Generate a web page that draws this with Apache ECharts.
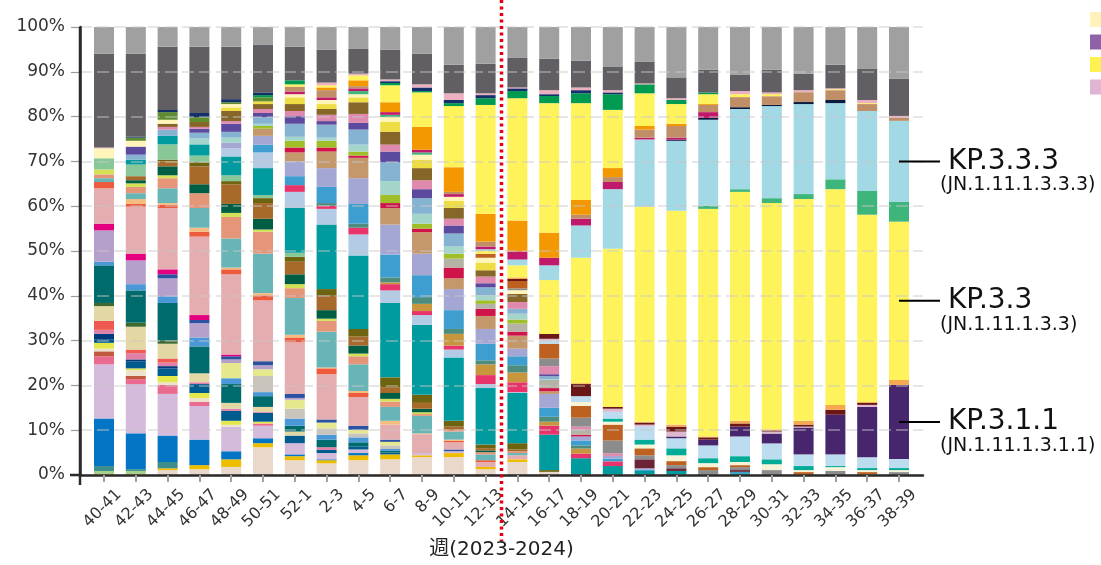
<!DOCTYPE html>
<html><head><meta charset="utf-8">
<script src="https://cdn.jsdelivr.net/npm/echarts@6/dist/echarts.min.js"></script>
<style>html,body{margin:0;padding:0;background:#fff}#c{width:1101px;height:565px}</style>
</head><body><div id="c"></div>
<script>
const weeks = ['40-41','42-43','44-45','46-47','48-49','50-51','52-1','2-3','4-5','6-7','8-9','10-11','12-13','14-15','16-17','18-19','20-21','22-23','24-25','26-27','28-29','30-31','32-33','34-35','36-37','38-39'];

// series values (% share per 2-week period), stacked bottom -> top
const beige     = [0,0,1.1,1.3,1.8,6.2,3.3,2.6,3.3,3.5,4.0,4.0,1.3,2.9,0.7,0,0,0,0,0,0,0,0,0,0,0];
const gold      = [0.2,0.2,0.4,0.9,1.7,0.9,0.9,0.7,1.1,1.1,0.4,0.9,0.5,0.6,0,0,0,0,0,0,0,0,0,0,0,0];
const ltgreen   = [0.7,0.7,0,0,0,0,0,0,0,0,0,0,0,0,0,0,0,0,0,0,0,0,0,0,0,0];
const tealgray  = [1.1,0.4,1.4,0,0,0,0,0,0,0,0,0,0,0,0,0,0,0,0,0,0,0,0,0,0,0];
const blue      = [10.6,8.0,5.9,5.7,1.8,1.1,0.4,0.2,0.5,0,0,0,0,0,0,0,0,0,0,0,0,0,0,0,0,0];
const ltpurple  = [12.1,11.0,9.3,7.5,5.5,2.8,2.5,1.4,0.8,0,0.5,0.4,0,0,0,0,0,0,0,0,0,0,0,0,0,0];
const pinkA     = [1.8,1.1,2.0,0.9,0,0.5,0,0,0,0,0,0,0,0,0,0,0,0,0,0,0,0,0,0,0,0];
const brownred  = [1.1,0.7,0,0,0,0,0,0,0,0,0,0,0,0,0,0,0,0,0,0,0,0,0,0,0,0];
const beigeL    = [0.6,1.3,0.6,0.9,0.4,0,0,0,0,0,0,0,0,0,0,0,0,0,0,0,0,0,0,0,0,0];
const yellowA   = [1.3,0.4,1.4,1.1,0.9,0.4,0,0,0,0,0,0,0,0,0,0,0,0,0,0,0,0,0,0,0,0];
const dkblue    = [0.7,1.5,1.7,2.0,2.2,2.0,1.7,0.7,0.7,0.4,0,0,0,0,0,0,0,0,0,0,0,0,0,0,0,0];
const navyA     = [1.3,0.5,0.5,0,0,0,0,0,0,0,0,0,0,0,0,0,0,0,0,0,0,0,0,0,0,0];
const pinkD     = [0.9,1.4,0.8,0.4,0.5,0.2,0,0.6,0,0,0,0,0,0,0,0,0,0,0,0,0,0,0,0,0,0];
const redA      = [2.0,0.8,0.9,0,0,0,0,0,0,0,0,0,0,0,0,0,0,0,0,0,0,0,0,0,0,0];
const tanA      = [3.3,5.1,3.3,2.0,1.3,1.1,0.9,0,0,0,0,0,0,0,0,0,0,0,0,0,0,0,0,0,0,0];
const dkolive   = [0.7,0.9,0.7,0,0,0,0,0,0,0,0,0,0,0,0,0,0,0,0,0,0,0,0,0,0,0];
const dkteal    = [8.4,7.2,8.4,6.0,4.2,2.4,1.3,1.7,0.9,0.4,0,0,0,0,0,0,0,0,0,0,0,0,0,0,0,0];
const blueB     = [0.8,1.4,1.5,2.0,1.3,0.9,1.6,1.1,1.1,0.4,0,0,0,0,0,0,0,0,0,0,0,0,0,0,0,0];
const grayish   = [0,0,0,0,0,3.6,2.2,1.4,0.9,0.8,0,0,0,0,0,0,0,0,0,0,0,0,0,0,0,0];
const paleyel   = [0,0,0,0,3.4,1.5,2.0,1.3,0.8,0.8,0,0,0,0,0,0,0,0,0,0,0,0,0,0,0,0];
const lavA      = [7.0,5.3,4.0,3.2,0.8,0.9,0.4,0,0,0,0,0,0,0,0,0,0,0,0,0,0,0,0,0,0,0];
const blueD     = [0,0,0.9,0.7,0.7,0.9,0.9,0.7,0.9,0.5,0,0.4,0,0,0,0,0,0,0,0,0,0,0,0,0,0];
const magenta   = [1.5,1.5,1.1,1.1,0.4,0,0,0,0,0,0,0,0,0,0,0,0,0,0,0,0,0,0,0,0,0];
const pinkBig   = [7.9,10.5,13.7,17.5,17.9,13.6,11.5,10.1,6.4,3.35,4.2,1.6,1.1,0.9,0,0,0,0,0,0,0,0,0,0,0,0];
const redorange = [1.4,0.6,0.7,1.1,1.1,1.1,1.1,1.3,0.9,0,0,0.3,0.4,0,0,0,0,0,0,0,0,0,0,0,0,0];
const apricot   = [0,1.1,0.4,0.9,0.4,0.5,0.6,0.2,0.45,0.85,0.2,0.3,0,0,0,0,0,0,0,0,0,0,0,0,0,0];
const ltteal    = [0.85,1.3,3.3,4.4,6.5,8.8,8.2,8.0,5.95,3.1,3.9,1.8,1.3,0.5,0,0,0,0,0,0,0,0,0,0,0,0];
const salmon    = [0.85,1.4,2.25,3.3,4.8,4.9,2.2,2.4,1.8,1.2,0.4,0.4,0.5,0.4,0,0,0,0,0,0,0,0,0,0,0,0];
const ygreenA   = [1.1,0.8,0.65,0,0.9,0.5,0.9,0.5,0.6,0.6,0.4,0,0,0,0,0,0,0,0,0,0,0,0,0,0,0];
const dkgreen   = [0,0.7,2.0,2.0,2.0,2.4,2.2,1.9,1.8,1.3,0.8,0,0.4,0,0,0,0,0,0,0,0,0,0,0,0,0];
const brownA    = [0,0.9,1.1,4.0,4.4,3.5,2.8,3.2,2.0,1.3,1.3,0.7,0.5,0.4,0,0,0,0,0,0,0,0,0,0,0,0];
const oliveA    = [0,0,0.4,0.9,0.7,1.1,1.1,1.5,1.7,2.2,1.8,1.3,0.8,1.4,0.4,0.2,0,0,0,0,0,0,0,0,0,0];
const ltgreenB  = [2.5,2.6,3.4,1.5,1.3,0.7,0.9,0,0,0,0,0,0,0,0,0,0,0,0,0,0,0,0,0,0,0];
const jn1       = [0,1.1,1.9,2.5,4.2,6.0,10.0,14.4,16.4,16.6,15.6,14.15,12.6,11.2,7.9,3.55,2.0,0.9,0.9,0,0.4,0,0,0,0,0];
const ltblueA   = [0,0,0,0,1.8,3.5,3.6,3.5,4.7,2.8,2.2,1.75,0.9,0.2,0,0,0,0,0,0,0,0,0,0,0,0];
const redpink   = [0,0,0,0,0,0,1.5,0.7,1.5,1.4,0.9,0.9,2.0,2.2,2.0,1.05,1.05,0,0,0,0,0,0,0,0,0];
const tanorange = [0,0,0,0,0,0,0,0,0,0.4,1.6,2.6,2.4,2.2,0.9,1.1,0,0,0,0,0,0,0,0,0,0];
const tealgrayB = [0,0,0,0,0,0,0,0.6,0.9,1.1,1.5,1.1,0.9,1.6,1.1,0.7,0,0,0,0,0,0,0,0,0,0];
const blueC     = [0,0,0,0,0,1.75,2.0,3.6,4.4,5.1,4.9,4.2,3.7,2.0,2.0,1.1,0.6,0.3,0,0,0.3,0,0,0,0,0];
const lavB      = [0,0,0,0,1.3,1.95,3.3,4.2,5.75,6.7,4.8,4.7,3.3,1.7,3.1,0.9,0.6,0.3,0,0,0,0,0,0,0,0];
const tanB      = [0,0,0,0,0,1.6,2.0,3.7,4.55,3.7,4.8,2.4,2.9,2.9,0.6,0,0,0,0,0,0,0,0,0,0,0];
const red       = [0,0,0,0,0,0,1.1,0.9,0.5,1.1,0.8,2.4,1.6,0.9,0.7,0.4,0,0,0,0,0,0,0,0,0,0];
const graybeige = [0,0,0,0,0,0,0,0,0,0,0,2.0,1.1,1.8,1.8,1.1,0,0,0,0,0,0,0,0,0,0];
const ygreen    = [0,0,0,0,0,0.6,1.5,1.5,0.9,1.8,1.1,1.1,0.8,0.9,0,0,0,0,0,0,0,0,0,0,0,0];
const mint      = [0,0,0,1.3,1.1,0.5,0.9,0.7,1.55,3.1,2.2,1.6,1.1,1.3,0.2,0,0,0,0,0,0,0,0,0,0,0];
const ltblueB   = [0,1.1,1.4,1.3,1.3,1.5,2.9,2.9,3.35,4.2,3.5,2.9,1.8,1.1,0.65,0,0,0,0,0,0,0,0,0,0,0];
const purple    = [0,1.8,0,0.9,1.8,0.9,1.7,0.8,1.5,2.4,2.0,1.8,0.9,0,0.45,0,0,0,0,0,0,0,0,0,0,0];
const pinkC     = [0,0,0.6,0.4,0.6,0.9,1.15,1.4,2.0,1.55,2.0,1.5,1.5,1.5,1.8,0.7,0.6,0,0,0,0,0,0,0,0,0];
const oliveB    = [0,0,0.7,1.1,2.25,1.1,1.55,1.3,2.6,2.85,2.7,2.4,1.4,1.8,0,0,0,0,0,0,0,0,0,0,0,0];
const yellowB   = [0,0,0,0,0.8,0.6,1.5,1.1,1.1,2.2,1.9,1.6,1.7,0,0,0,0,0,0,0,0,0,0,0,0,0];
const ltyellow  = [2.2,1.3,0.9,0,0.75,0,0.7,0.9,0.7,1.1,1.1,0.9,1.1,0.85,0,0,0,0,0,0,0,0,0,0,0,0];
const greenO    = [0,0.7,1.7,1.1,0.4,0.9,0,0,0,0,0,0,0,0,0,0,0,0,0,0,0,0,0,0,0,0];
const maroon    = [0,0,0,0,0,0,0,0,0,0,0,0,0,0,0,0,0,2.0,0.6,0,0.4,0,0,0,0,0];
const grayM     = [0,0,0,0,0,0,0,0,0,0,0,0,0,0.4,1.7,2.0,2.85,0.9,0.7,1.1,0.65,1.1,0,0.9,0.2,0.65];
const brownR    = [0,0,0,0,0,0,0,0,0,0,0,0,0.9,1.65,3.3,2.6,3.55,1.55,0.9,0.65,0.45,0,0.65,0,0.45,0];
const cream     = [0,0,0,0,0,0,0,0,0,0,0,0,0,0,0,0.9,0.65,0.85,1.3,0.9,0.7,1.3,0.45,0.85,0.45,0.45];
const tealK     = [0,0,0,0,0,0,0,0,0,0,0,0,0,0,0,0,0.7,1.1,1.55,1.1,1.3,1.1,0.9,0.25,0.45,0.45];
const ltblueK   = [0,0,0,0,0,0,0,0,0,0,0,0,0,0,0.7,1.3,1.5,2.9,2.25,2.85,4.4,3.55,2.6,2.6,2.4,2.0];
const kp311     = [0,0,0,0,0,0,0,0,0,0,0,0,0,0,0,0,0,0,0.4,1.3,2.2,2.2,6.0,8.85,11.25,16.55];
const lavK      = [0,0,0,0,0,0,0,0,0,0,0,0,0,0,0.4,0,0.7,0.45,1.1,0,0,0.45,0.2,0,0.45,0];
const dkred     = [0,0,0,0,0,0,0,0,0,0,0,0,0,0.45,1.1,2.7,0.4,0.45,1.1,0.5,0.7,0.25,0.45,1.1,0.45,0];
const orangeK   = [0,0,0,0,0,0,0,0,0,0,0,0,0,0.35,0,0.2,0,0.2,0.45,0.2,0.6,0.2,0.85,1.1,0.2,1.1];
const kp33      = [0,0,0,0,0,0,0,0,0,0,0,0,0.6,2.7,12.0,28.0,35.3,48.0,47.75,50.8,51.1,50.55,49.5,48.15,41.8,35.35];
const greenK    = [0,0,0,0,0,0,0,0,0.7,0.5,0.5,0,0,0,0,0,0,0,0,0.7,0.6,1.1,1.1,2.2,5.3,4.4];
const kp333     = [0,0,0,0,0,0,0,0,0,0,0,0,0.4,1.3,3.3,7.2,13.3,15.0,15.6,19.2,17.9,20.55,20.1,17.0,17.85,18.1];
const navyK     = [0,0,0,0,0,0,0,0,0,0,0,0,0,0,0,0,0,0,0.25,0.4,0.4,0.25,0.45,0.7,0,0];
const magK      = [0,0,0,0,0,0,0.6,0.6,0.6,0.6,0.6,0.6,0.6,1.8,1.7,1.5,1.6,0.4,0.45,1.3,0,0,0,0,0,0];
const tanK      = [0,0,0,0,0,0,1.1,1.6,0.5,0,0,0.5,1.1,0,0,0.9,1.1,1.8,2.6,1.6,2.25,1.95,2.2,2.2,1.55,0.65];
const orange    = [0,0,0,0,0,0,0,0.6,1.3,2.2,5.1,5.5,6.2,6.9,5.6,3.3,2.0,0.8,0.5,0.2,0,0,0,0,0,0];
const yellowT   = [0,0,0,0,0,0,0.5,0.5,1.1,3.8,7.7,13.65,24.3,27.3,28.9,21.6,13.0,7.3,4.4,2.2,0.65,0.45,0,0.2,0.2,0];
const green     = [0,0,0,0,0,0.5,0.9,0,0,0.5,0.3,0.65,1.5,1.6,1.6,2.2,3.5,2.0,0.9,0.4,0,0,0,0,0,0];
const navy      = [0,0.2,0.5,0.9,0.7,0.6,0,0,0,0.4,0.8,0.7,0.7,0.6,0.4,0.7,0.4,0,0,0,0,0,0,0,0,0];
const pinkT     = [0.2,0,0,0,0,0,0,0.6,0.4,0.4,0.7,1.5,0.4,0.2,0.9,0.6,0.5,0.2,0.4,0,0.7,0.4,0.45,0.2,0.7,0.45];
const dkgray    = [20.9,18.5,14.1,14.8,11.7,10.6,7.5,7.3,5.5,6.6,6.8,6.4,6.6,6.7,7.0,6.0,5.3,4.9,4.65,5.1,3.7,5.1,3.7,5.3,7.05,8.35];
const ltgray    = [6.0,6.0,4.4,4.4,4.4,4.0,4.4,5.1,4.9,5.1,6.0,8.4,8.2,6.8,7.1,7.5,8.8,7.7,11.25,9.5,10.6,9.5,10.4,8.4,9.25,11.5];

// stack order (bottom -> top): [series name, values]
const stackOrder = [
  ['beige',beige],['gold',gold],['ltgreen',ltgreen],['tealgray',tealgray],['blue',blue],['ltpurple',ltpurple],
  ['pinkA',pinkA],['brownred',brownred],['beigeL',beigeL],['yellowA',yellowA],['dkblue',dkblue],['navyA',navyA],
  ['pinkD',pinkD],['redA',redA],['tanA',tanA],['dkolive',dkolive],['dkteal',dkteal],['blueB',blueB],
  ['grayish',grayish],['paleyel',paleyel],['lavA',lavA],['blueD',blueD],['magenta',magenta],['pinkBig',pinkBig],
  ['redorange',redorange],['apricot',apricot],['ltteal',ltteal],['salmon',salmon],['ygreenA',ygreenA],['dkgreen',dkgreen],
  ['brownA',brownA],['oliveA',oliveA],['ltgreenB',ltgreenB],['JN.1',jn1],['ltblueA',ltblueA],['redpink',redpink],
  ['tanorange',tanorange],['tealgrayB',tealgrayB],['blueC',blueC],['lavB',lavB],['tanB',tanB],['red',red],
  ['graybeige',graybeige],['ygreen',ygreen],['mint',mint],['ltblueB',ltblueB],['purple',purple],['pinkC',pinkC],
  ['oliveB',oliveB],['yellowB',yellowB],['ltyellow',ltyellow],['greenO',greenO],['maroon',maroon],['grayM',grayM],
  ['brownR',brownR],['cream',cream],['tealK',tealK],['ltblueK',ltblueK],['KP.3.1.1',kp311],['lavK',lavK],
  ['dkred',dkred],['orangeK',orangeK],['KP.3.3',kp33],['greenK',greenK],['KP.3.3.3',kp333],['navyK',navyK],
  ['magK',magK],['tanK',tanK],['orange',orange],['yellowT',yellowT],['green',green],['navy',navy],
  ['pinkT',pinkT],['dkgray',dkgray],['ltgray',ltgray]
];

const colors = {
  beige:'#EAD9CB', gold:'#EFBD00', ltgreen:'#A8D08D', tealgray:'#3D8D8B', blue:'#0474C4', ltpurple:'#D4BADB',
  pinkA:'#EB6A8F', brownred:'#BF5B3C', beigeL:'#EDE3CC', yellowA:'#E5E84A', dkblue:'#005C8E', navyA:'#003C7D',
  pinkD:'#E080A8', redA:'#EE5A50', tanA:'#E3D7A4', dkolive:'#40692F', dkteal:'#006B6C', blueB:'#4A98D8',
  grayish:'#C9C5BD', paleyel:'#E6E88E', lavA:'#B5A0CB', blueD:'#2A52A0', magenta:'#E5007F', pinkBig:'#E4ADB0',
  redorange:'#EE5A3C', apricot:'#F5BC80', ltteal:'#67B5B7', salmon:'#E59679', ygreenA:'#D4E157', dkgreen:'#005E45',
  brownA:'#A86A2A', oliveA:'#6E6410', ltgreenB:'#88C898', 'JN.1':'#009B9F', ltblueA:'#B3CBE5', redpink:'#E8346A',
  tanorange:'#C8963C', tealgrayB:'#4E8C7E', blueC:'#3E9ECF', lavB:'#A4A6D4', tanB:'#C4986A', red:'#D0144A',
  graybeige:'#B5B2A6', ygreen:'#9FBE27', mint:'#A3D5CB', ltblueB:'#87B3D3', purple:'#5C4A9E', pinkC:'#E089AE',
  oliveB:'#866629', yellowB:'#EEDD44', ltyellow:'#FFF5BB', greenO:'#5E8C31', maroon:'#6B2435', grayM:'#8C8C8C',
  brownR:'#BE6120', cream:'#F7F3D6', tealK:'#00AC97', ltblueK:'#BCDCF0', 'KP.3.1.1':'#48266E', lavK:'#DDB8CF',
  dkred:'#6B1717', orangeK:'#F5A850', 'KP.3.3':'#FFF35C', greenK:'#3DB57B', 'KP.3.3.3':'#A3D8E5', navyK:'#0A1A40',
  magK:'#C0186A', tanK:'#C08F68', orange:'#F39801', yellowT:'#FFF35C', green:'#009A51', navy:'#14306A',
  pinkT:'#EDB0C0', dkgray:'#615F63', ltgray:'#A0A0A0'
};

stackOrder.forEach(([n, v]) => { if (v.length !== weeks.length) throw new Error(n + ' has ' + v.length + ' values'); });

const FONT = '"DejaVu Sans", "Noto Sans CJK JP", sans-serif';
const LABEL_SHIFT = 0.47;
const X_MIN = -0.755, X_MAX = 25.755;

// data as [value, periodIndex]; encode puts the index on x and the share on y,
// so the share dimension is the stacked one.
const series = stackOrder.map(([name, vals]) => ({
  name, type: 'bar', stack: 'share', barWidth: 20, silent: true,
  encode: { x: 1, y: 0 },
  itemStyle: { color: colors[name] },
  emphasis: { disabled: true },
  data: vals.map((v, i) => [v, i])
}));

const chart = echarts.init(document.getElementById('c'), null, { renderer: 'canvas' });
chart.setOption({
  animation: false,
  textStyle: { fontFamily: FONT },
  grid: { left: 80, right: 178, top: 27, bottom: 85 },
  legend: {
    orient: 'vertical', left: 1085, top: 7, itemWidth: 16, itemHeight: 15, itemGap: 7.5,
    icon: 'rect', selectedMode: false,
    textStyle: { fontSize: 12, color: '#333', fontFamily: FONT },
    data: [
      { name: 'ltyellow', itemStyle: { color: '#FFF2BB' } },
      { name: 'purple', itemStyle: { color: '#9060A8' } },
      { name: 'yellowT', itemStyle: { color: '#FFF150' } },
      { name: 'pinkT', itemStyle: { color: '#E0B5D3' } }
    ]
  },
  xAxis: {
    type: 'value', min: X_MIN, max: X_MAX, z: 6,
    name: '週(2023-2024)', nameLocation: 'middle', nameGap: 65,
    nameTextStyle: { fontSize: 20, color: '#222', fontFamily: FONT },
    axisLine: { show: true, onZero: false, lineStyle: { color: '#2a2a2a', width: 2.5 } },
    axisTick: { show: true, customValues: weeks.map((w, i) => i), length: 7, lineStyle: { color: '#a0a0a0', width: 2 } },
    axisLabel: {
      customValues: weeks.map((w, i) => i + LABEL_SHIFT),
      formatter: v => weeks[Math.round(v - LABEL_SHIFT)] || '',
      rotate: 45, margin: 17, fontSize: 16, color: '#333', fontFamily: FONT
    },
    splitLine: { show: false }
  },
  yAxis: {
    type: 'value', position: 'left', min: 0, max: 100, interval: 10, z: 5,
    axisLine: { show: true, onZero: false, lineStyle: { color: '#2a2a2a', width: 2.5 } },
    axisTick: { show: true, length: 9, lineStyle: { color: '#9a9a9a', width: 1.2 } },
    axisLabel: { formatter: '{value}%', fontSize: 17, color: '#333', margin: 15, fontFamily: FONT },
    splitLine: { show: true, lineStyle: { color: 'rgba(200,200,200,0.45)', width: 2, type: [12, 5] } }
  },
  series
});

const g = [];
// left axis rule, placed from the axis scale (x minimum, 0% .. 100%), reaching a little below the baseline
const pTop = chart.convertToPixel({ gridIndex: 0 }, [X_MIN, 100]);
const pBot = chart.convertToPixel({ gridIndex: 0 }, [X_MIN, 0]);
g.push({ type: 'line', z: 90, shape: { x1: pTop[0], y1: pTop[1], x2: pBot[0], y2: pBot[1] + 10 }, style: { stroke: '#2a2a2a', lineWidth: 2.5 } });
g.push({ type: 'line', z: 90, shape: { x1: pBot[0] - 10, y1: pBot[1], x2: pBot[0], y2: pBot[1] }, style: { stroke: '#2a2a2a', lineWidth: 2.5 } });

// annotations for the last period
const last = weeks.length - 1;
function baseOf(name, idx) {
  let s = 0;
  for (const [n, v] of stackOrder) { if (n === name) return s; s += v[idx]; }
  return s;
}
const notes = [
  { name: 'KP.3.3.3', vals: kp333, sub: '(JN.1.11.1.3.3.3)' },
  { name: 'KP.3.3', vals: kp33, sub: '(JN.1.11.1.3.3)' },
  { name: 'KP.3.1.1', vals: kp311, sub: '(JN.1.11.1.3.1.1)' }
];
notes.forEach(n => {
  const mid = baseOf(n.name, last) + n.vals[last] / 2;
  const p = chart.convertToPixel({ gridIndex: 0 }, [last, mid]);
  g.push({ type: 'line', z: 100, shape: { x1: p[0], y1: p[1], x2: p[0] + 41, y2: p[1] }, style: { stroke: '#000', lineWidth: 2 } });
  g.push({ type: 'text', z: 100, x: p[0] + 49, y: p[1], style: { text: n.name, fontSize: 28, fontFamily: FONT, fill: '#111', align: 'left', verticalAlign: 'middle' } });
  g.push({ type: 'text', z: 100, x: p[0] + 41, y: p[1] + 24, style: { text: n.sub, fontSize: 19, fontFamily: FONT, fill: '#111', align: 'left', verticalAlign: 'middle' } });
});
const dp = chart.convertToPixel({ gridIndex: 0 }, [12.5, 0]);
g.push({ type: 'line', z: 100, shape: { x1: dp[0], y1: 0, x2: dp[0], y2: 541 }, style: { stroke: '#E60012', lineWidth: 3.5, lineDash: [3, 3.5] } });
chart.setOption({ graphic: g });
</script>
</body></html>
